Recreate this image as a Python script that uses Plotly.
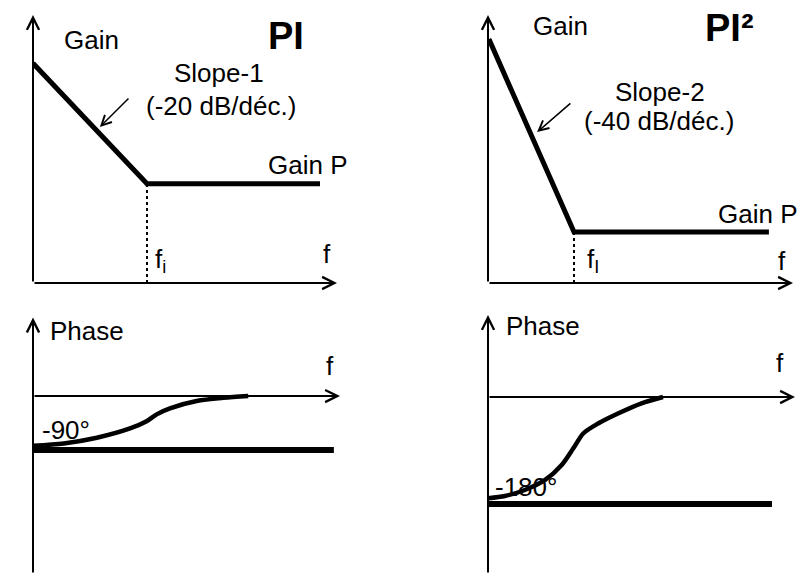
import plotly.graph_objects as go

# --- data (panel units: frequency 0..10 along the f axis, gain 0..10 along the gain axis, phase in degrees)
pi_gain_f = [0.0, 3.75, 9.44]
pi_gain_lvl = [8.2, 3.7, 3.7]
pi_fi = 3.75

pi2_gain_f = [0.03, 2.82, 9.21]
pi2_gain_lvl = [9.1, 1.9, 1.9]
pi2_fi = 2.82

pi_phase_f = [0.01, 1.0, 2.08, 3.16, 3.7, 4.03, 4.46, 5.33, 6.2, 7.01]
pi_phase_deg = [-83, -79, -69.5, -54, -42, -30.5, -20.5, -8.3, -3, 0]
pi_phase_asym = -90
pi_phase_asym_end = 9.8

pi2_phase_f = [0.01, 0.55, 1.2, 1.86, 2.4, 2.78, 3.11, 3.6, 4.25, 5.0, 5.7]
pi2_phase_deg = [-170.5, -166.7, -156.6, -139.7, -114.5, -86.4, -61.1, -44.3, -27.4, -10.6, 0]
pi2_phase_asym = -180
pi2_phase_asym_end = 9.25

# the page adds an 8px body margin, so the figure is a little smaller than the window
OFF = 8
W, H = 790, 566
FONT = "Arial, Liberation Sans, sans-serif"


def dom_x(p0, p1):
    return [(p0 - OFF) / W, (p1 - OFF) / W]


def dom_y(top, bottom):
    return [1 - (bottom - OFF) / H, 1 - (top - OFF) / H]


fig = go.Figure()

# gain curves
fig.add_trace(go.Scatter(x=pi_gain_f, y=pi_gain_lvl, mode="lines",
                         line=dict(color="black", width=5), xaxis="x", yaxis="y"))
fig.add_trace(go.Scatter(x=[pi_fi, pi_fi], y=[0, pi_gain_lvl[1]], mode="lines",
                         line=dict(color="black", width=2, dash="dot"), xaxis="x", yaxis="y"))
fig.add_trace(go.Scatter(x=pi2_gain_f, y=pi2_gain_lvl, mode="lines",
                         line=dict(color="black", width=5), xaxis="x2", yaxis="y2"))
fig.add_trace(go.Scatter(x=[pi2_fi, pi2_fi], y=[0, pi2_gain_lvl[1]], mode="lines",
                         line=dict(color="black", width=2, dash="dot"), xaxis="x2", yaxis="y2"))

# phase curves
fig.add_trace(go.Scatter(x=[0, pi_phase_asym_end], y=[pi_phase_asym] * 2, mode="lines",
                         line=dict(color="black", width=6), xaxis="x3", yaxis="y3"))
fig.add_trace(go.Scatter(x=pi_phase_f, y=pi_phase_deg, mode="lines",
                         line=dict(color="black", width=4.5, shape="spline", smoothing=0.8),
                         xaxis="x3", yaxis="y3"))
fig.add_trace(go.Scatter(x=[0, pi2_phase_asym_end], y=[pi2_phase_asym] * 2, mode="lines",
                         line=dict(color="black", width=6), xaxis="x4", yaxis="y4"))
fig.add_trace(go.Scatter(x=pi2_phase_f, y=pi2_phase_deg, mode="lines",
                         line=dict(color="black", width=4.5, shape="spline", smoothing=0.8),
                         xaxis="x4", yaxis="y4"))

ann = []


def axis_arrow(xr, yr, x0, y0, x1, y1):
    ann.append(dict(x=x1, y=y1, ax=x0, ay=y0, xref=xr, yref=yr, axref=xr, ayref=yr,
                    text="", showarrow=True, arrowhead=5, arrowsize=1.2,
                    arrowwidth=2, arrowcolor="black", standoff=0))


def slope_arrow(xr, yr, x0, y0, x1, y1):
    ann.append(dict(x=x1, y=y1, ax=x0, ay=y0, xref=xr, yref=yr, axref=xr, ayref=yr,
                    text="", showarrow=True, arrowhead=5, arrowsize=1.3,
                    arrowwidth=1.5, arrowcolor="black", standoff=0))


def label(xr, yr, x, y, txt, size=26, anchor="center", bold=False):
    t = "<b>%s</b>" % txt if bold else txt
    ann.append(dict(x=x, y=y, xref=xr, yref=yr, text=t, showarrow=False,
                    xanchor=anchor, yanchor="middle",
                    font=dict(family=FONT, size=size, color="black")))


# top-left: PI gain
axis_arrow("x", "y", 0, 0, 0, 10)
axis_arrow("x", "y", 0, 0, 10, 0)
slope_arrow("x", "y", 3.19, 6.94, 2.2, 5.82)
label("x", "y", 1.94, 9.07, "Gain")
label("x", "y", 8.32, 9.22, "PI", size=38, bold=True)
label("x", "y", 6.12, 7.84, "Slope-1")
label("x", "y", 6.18, 6.6, "(-20 dB/déc.)")
label("x", "y", 9.05, 4.4, "Gain P")
label("x", "y", 9.67, 1.08, "f")
label("x", "y", 3.95, 0.85, "f<sub>i</sub>", anchor="left")

# top-right: PI2 gain
axis_arrow("x2", "y2", 0, 0, 0, 10)
axis_arrow("x2", "y2", 0, 0, 10, 0)
slope_arrow("x2", "y2", 2.75, 6.75, 1.61, 5.63)
label("x2", "y2", 2.39, 9.59, "Gain")
label("x2", "y2", 7.93, 9.5, "PI²", size=38, bold=True)
label("x2", "y2", 5.64, 7.13, "Slope-2")
label("x2", "y2", 5.61, 6.04, "(-40 dB/déc.)")
label("x2", "y2", 8.85, 2.57, "Gain P")
label("x2", "y2", 9.64, 0.82, "f")
label("x2", "y2", 3.18, 0.85, "f<sub>I</sub>", anchor="left")

# bottom-left: PI phase
axis_arrow("x3", "y3", 0, -297, 0, 131)
axis_arrow("x3", "y3", 0, 0, 10, 0)
label("x3", "y3", 1.76, 108, "Phase")
label("x3", "y3", 9.67, 50, "f")
label("x3", "y3", -0.68, 0, "0")
label("x3", "y3", 1.07, -57, "-90°")

# bottom-right: PI2 phase
axis_arrow("x4", "y4", 0, -298, 0, 138)
axis_arrow("x4", "y4", 0, 0, 10, 0)
label("x4", "y4", 1.79, 120, "Phase")
label("x4", "y4", 9.51, 58, "f")
label("x4", "y4", -0.33, -2, "0")
label("x4", "y4", 1.24, -151, "-180°")

hidden = dict(visible=False, showgrid=False, zeroline=False, fixedrange=True)

fig.update_layout(
    width=W, height=H,
    margin=dict(l=0, r=0, t=0, b=0),
    paper_bgcolor="white", plot_bgcolor="white",
    showlegend=False,
    annotations=ann,
    xaxis=dict(domain=dom_x(33, 337), range=[0, 10], anchor="y", **hidden),
    yaxis=dict(domain=dom_y(15, 283), range=[0, 10], anchor="x", **hidden),
    xaxis2=dict(domain=dom_x(488, 793), range=[0, 10], anchor="y2", **hidden),
    yaxis2=dict(domain=dom_y(15, 283), range=[0, 10], anchor="x2", **hidden),
    xaxis3=dict(domain=dom_x(33, 340), range=[0, 10], anchor="y3", **hidden),
    yaxis3=dict(domain=dom_y(317, 574), range=[-297, 132], anchor="x3", **hidden),
    xaxis4=dict(domain=dom_x(488, 795), range=[0, 10], anchor="y4", **hidden),
    yaxis4=dict(domain=dom_y(315, 574), range=[-298, 138], anchor="x4", **hidden),
)

fig.write_html("out.html")
